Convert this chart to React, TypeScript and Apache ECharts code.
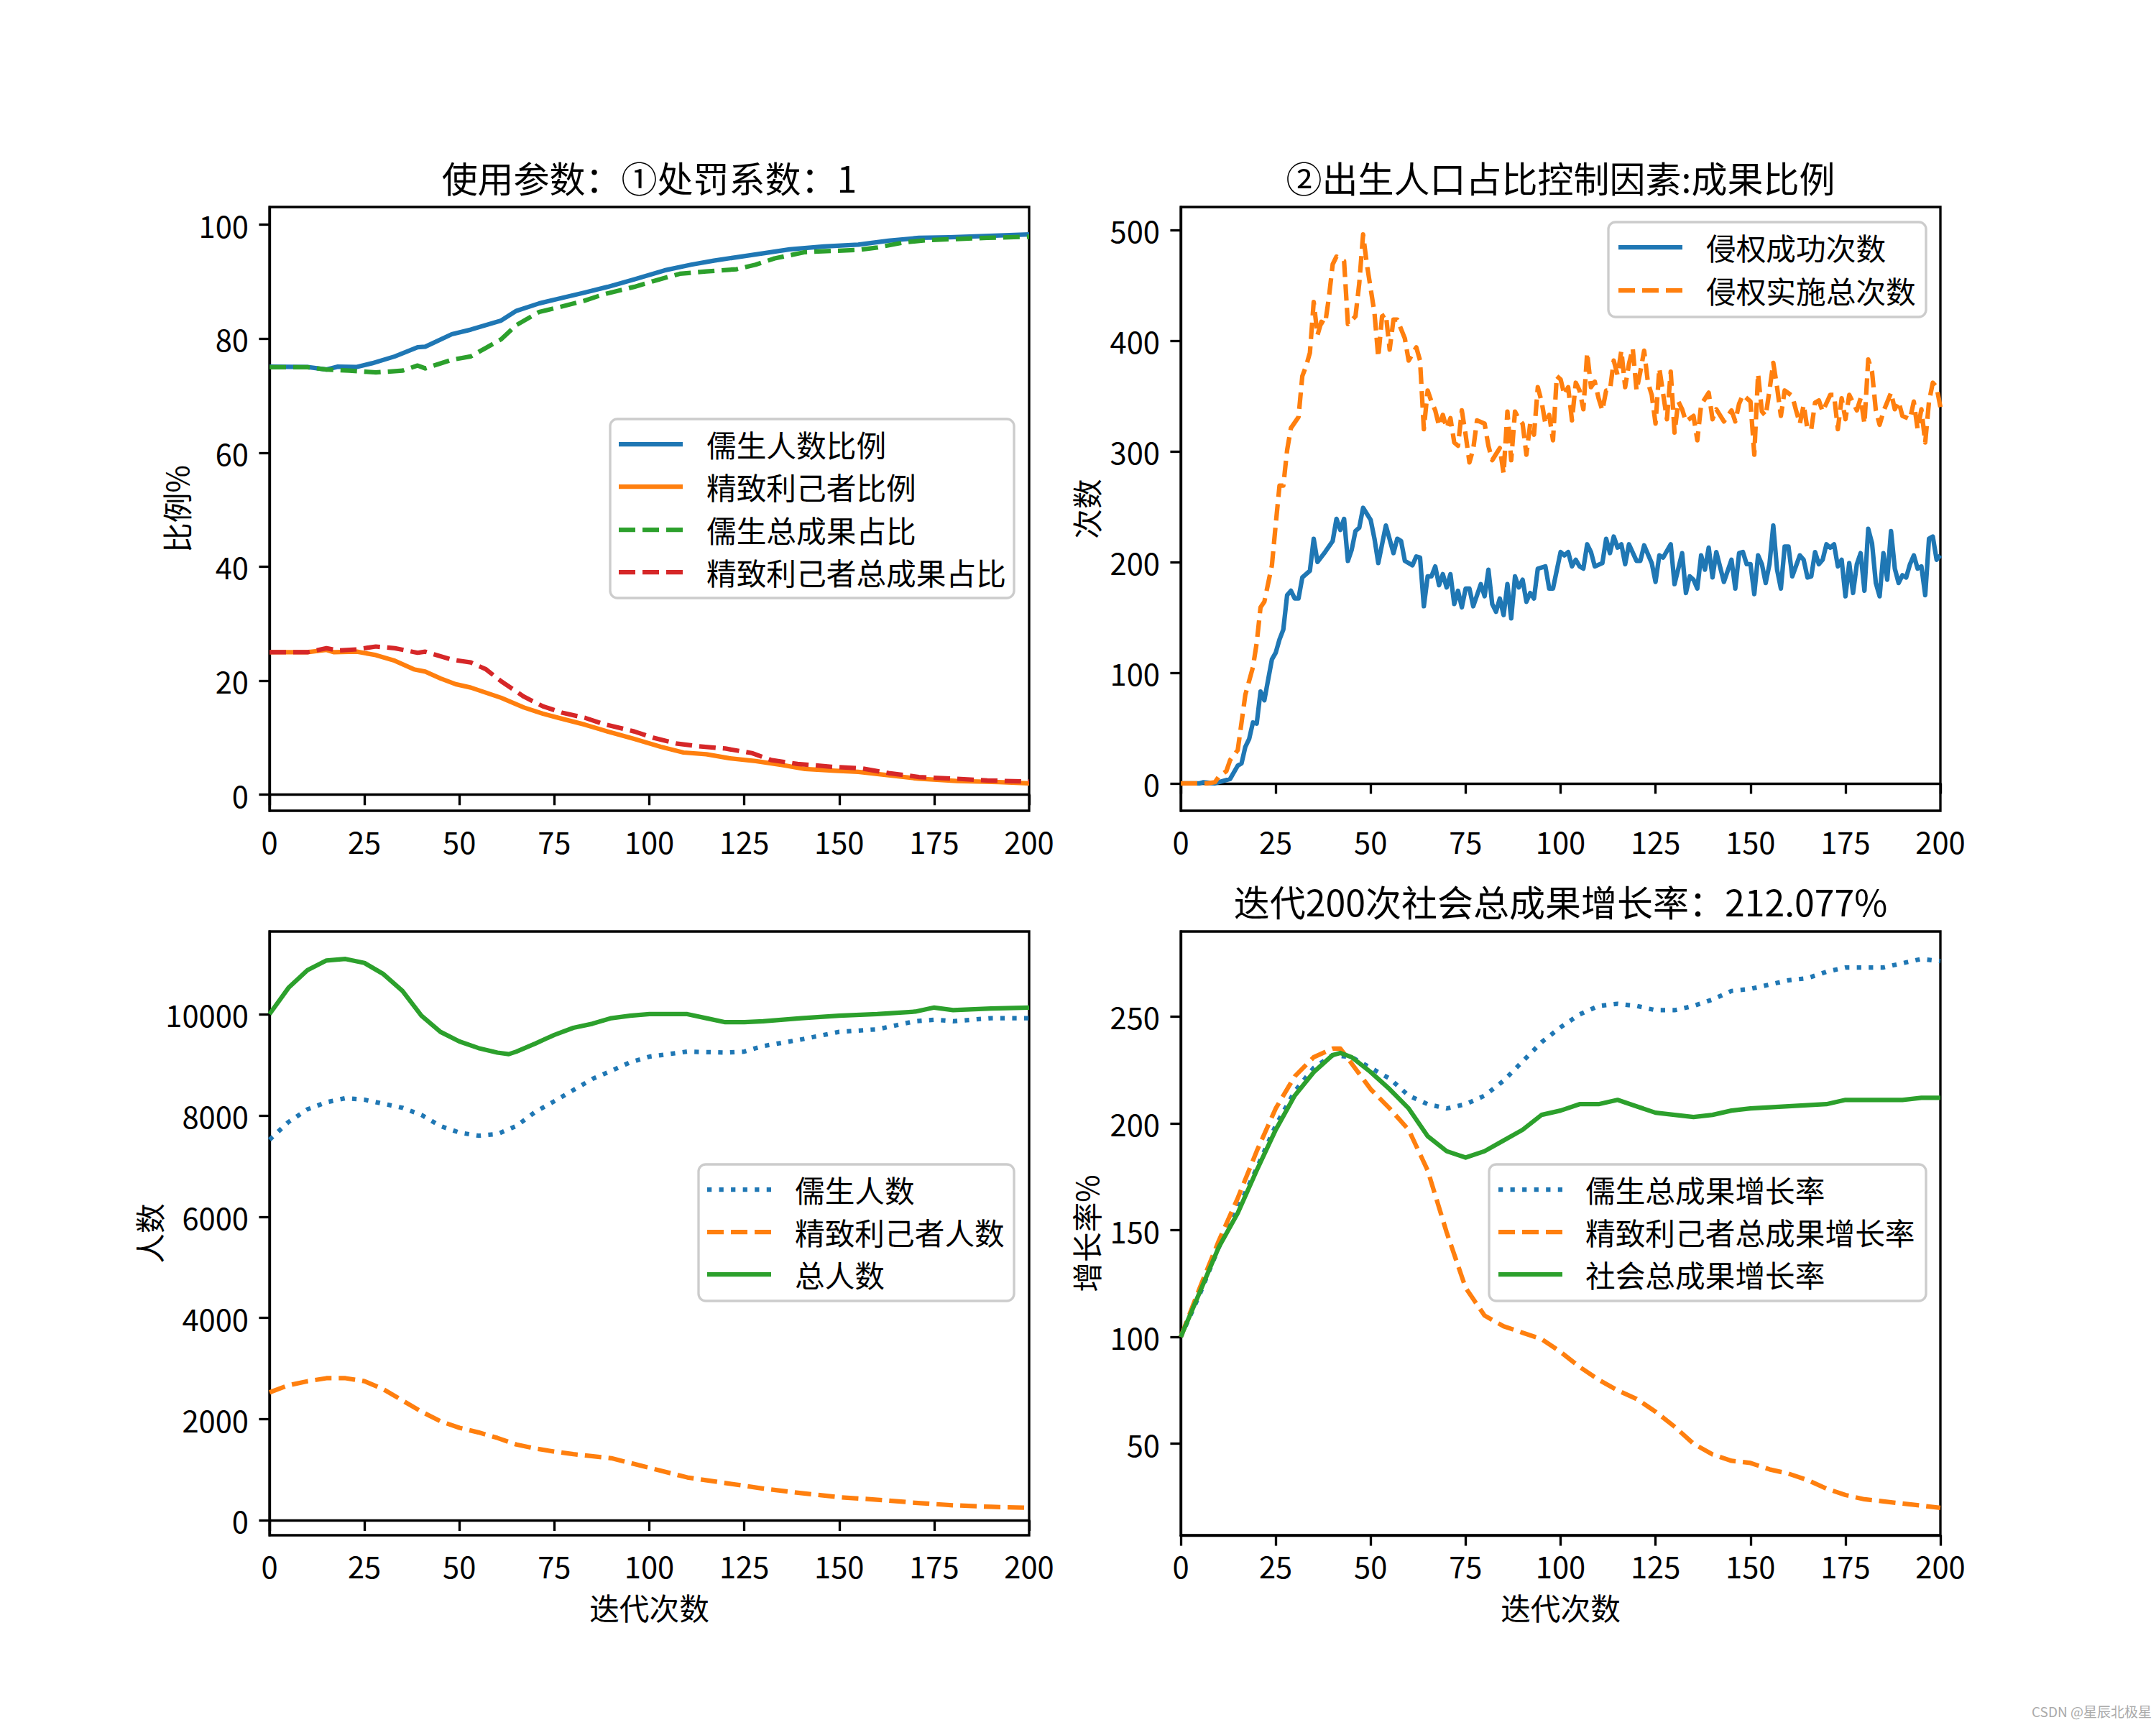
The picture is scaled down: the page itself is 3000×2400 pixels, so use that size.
import React, { useEffect, useRef } from "react";
import * as echarts from "echarts";

// ---------- tick labels ----------
const X_TICKS = [0, 25, 50, 75, 100, 125, 150, 175, 200];
const TL_Y_TICKS = [0, 20, 40, 60, 80, 100];
const TR_Y_TICKS = [0, 100, 200, 300, 400, 500];
const BL_Y_TICKS = [0, 2000, 4000, 6000, 8000, 10000];
const BR_Y_TICKS = [50, 100, 150, 200, 250];

// ---------- titles / labels ----------
const TITLE_TL = "使用参数：①处罚系数：1";
const TITLE_TR = "②出生人口占比控制因素:成果比例";
const TITLE_BR = "迭代200次社会总成果增长率：212.077%";
const YLABEL_TL = "比例%";
const YLABEL_TR = "次数";
const YLABEL_BL = "人数";
const YLABEL_BR = "增长率%";
const XLABEL = "迭代次数";
const NAMES_TL = ["儒生人数比例", "精致利己者比例", "儒生总成果占比", "精致利己者总成果占比"];
const NAMES_TR = ["侵权成功次数", "侵权实施总次数"];
const NAMES_BL = ["儒生人数", "精致利己者人数", "总人数"];
const NAMES_BR = ["儒生总成果增长率", "精致利己者总成果增长率", "社会总成果增长率"];

// ---------- data: top-left (比例%) ----------
const TL_SCHOLAR_RATIO = [[0,75.1],[10,75.05],[15,74.6],[18,75.1],[23,75.05],[27,75.7],[33,76.9],[39,78.5],[41,78.6],[48,80.8],[53,81.6],[61,83.2],[65,84.9],[71,86.2],[76,87.0],[83,88.1],[89,89.1],[96,90.4],[104,92.0],[111,93.0],[117,93.7],[124,94.4],[131,95.1],[137,95.7],[146,96.2],[155,96.5],[163,97.2],[171,97.7],[179,97.8],[187,98.0],[200,98.3]];
const TL_EGOIST_RATIO = [[0,25.0],[10,25.0],[15,25.4],[17,25.0],[23,25.1],[28,24.5],[33,23.5],[38,22.0],[41,21.6],[45,20.4],[49,19.4],[53,18.8],[61,17.0],[67,15.3],[72,14.2],[76,13.5],[83,12.3],[89,11.1],[96,9.8],[103,8.4],[109,7.4],[115,7.1],[121,6.4],[128,5.9],[135,5.2],[141,4.5],[149,4.2],[155,4.0],[163,3.4],[171,2.8],[181,2.4],[192,2.2],[200,2.0]];
const TL_SCHOLAR_OUTPUT = [[0,75.0],[10,75.0],[15,74.6],[21,74.4],[28,74.1],[35,74.4],[39,75.3],[41,74.8],[48,76.3],[53,76.9],[57,78.4],[61,79.9],[65,82.4],[71,84.7],[76,85.5],[83,86.7],[88,87.8],[96,89.1],[101,90.1],[108,91.4],[115,91.8],[123,92.2],[128,93.0],[133,94.1],[141,95.2],[155,95.6],[160,96.0],[167,96.9],[173,97.3],[181,97.5],[189,97.7],[200,97.9]];
const TL_EGOIST_OUTPUT = [[0,25.0],[10,25.0],[15,25.7],[18,25.3],[23,25.5],[28,26.0],[33,25.7],[39,24.9],[41,25.1],[48,23.7],[53,23.2],[57,22.0],[61,19.9],[67,17.2],[72,15.5],[77,14.4],[83,13.5],[88,12.4],[96,11.1],[101,10.0],[107,9.0],[113,8.5],[120,8.1],[127,7.3],[132,6.1],[139,5.4],[148,4.9],[156,4.6],[163,3.8],[171,3.1],[181,2.8],[189,2.5],[200,2.3]];

// ---------- data: top-right (次数) ----------
const TR_SUCCESS = [[0,0],[5,0],[6,1],[9,0],[11,2],[13,4],[15,16],[16,18],[17,33],[18,40],[19,55],[20,54],[21,83],[22,75],[24,112],[25,118],[26,130],[27,139],[28,170],[29,174],[30,167],[31,167],[32,186],[34,192],[35,221],[36,200],[38,209],[40,219],[41,239],[42,229],[43,239],[44,201],[45,211],[46,228],[47,231],[48,249],[50,238],[51,221],[52,199],[54,233],[56,208],[57,221],[58,219],[59,201],[61,197],[62,205],[63,204],[64,160],[65,187],[66,187],[67,196],[68,179],[69,189],[70,177],[71,189],[72,162],[73,174],[74,159],[75,176],[76,176],[77,160],[79,180],[80,169],[81,193],[82,162],[83,155],[84,167],[85,152],[86,180],[87,149],[88,187],[89,177],[90,184],[91,164],[92,172],[93,167],[94,194],[96,196],[97,176],[98,176],[100,209],[101,206],[102,209],[103,196],[104,202],[105,196],[106,194],[107,216],[108,209],[109,196],[111,199],[112,221],[113,208],[114,223],[115,213],[116,216],[117,198],[118,216],[120,201],[121,201],[122,215],[124,199],[125,182],[126,206],[127,204],[129,216],[130,180],[132,208],[133,172],[134,187],[135,184],[136,176],[137,206],[138,193],[139,213],[140,186],[141,209],[143,182],[145,202],[146,176],[147,208],[148,209],[149,198],[150,198],[151,171],[152,206],[153,198],[154,181],[155,198],[156,233],[157,193],[158,176],[159,214],[160,214],[161,187],[163,206],[164,202],[165,186],[166,187],[167,209],[168,198],[169,202],[170,216],[171,213],[172,216],[173,196],[174,202],[175,169],[176,199],[177,172],[178,198],[179,208],[180,174],[181,230],[182,217],[183,181],[184,169],[185,208],[186,184],[187,228],[188,194],[189,181],[190,188],[191,186],[192,198],[193,206],[194,194],[195,196],[196,170],[197,221],[198,223],[199,202],[200,206]];
const TR_TOTAL = [[0,0],[7,0],[9,1],[10,6],[12,11],[13,21],[15,30],[16,55],[17,80],[19,105],[20,127],[21,159],[22,164],[24,197],[25,234],[26,269],[27,269],[28,301],[29,321],[31,331],[32,368],[33,377],[34,389],[35,435],[36,405],[37,417],[38,415],[39,439],[40,469],[41,476],[43,472],[44,415],[46,422],[47,452],[48,496],[49,469],[51,425],[52,385],[53,422],[54,424],[55,392],[56,419],[57,419],[59,402],[60,382],[62,394],[63,382],[64,320],[65,355],[66,345],[67,337],[68,323],[69,333],[70,321],[71,330],[72,308],[73,305],[74,337],[75,315],[76,290],[77,302],[78,328],[80,325],[81,305],[82,292],[84,303],[85,280],[86,336],[87,292],[88,336],[89,329],[90,325],[91,297],[92,325],[93,315],[94,358],[95,345],[96,325],[97,333],[98,310],[99,368],[100,365],[101,351],[102,358],[103,328],[104,362],[105,355],[106,338],[107,389],[108,358],[109,363],[110,348],[111,337],[112,355],[113,355],[114,382],[115,369],[116,391],[117,358],[118,379],[119,393],[120,355],[121,372],[122,391],[123,362],[124,351],[125,325],[126,375],[128,329],[129,372],[130,317],[131,345],[132,338],[133,327],[135,332],[136,310],[137,342],[139,353],[140,329],[141,338],[143,327],[145,337],[146,327],[147,343],[148,351],[150,345],[151,297],[152,370],[153,336],[154,332],[155,355],[156,380],[157,358],[158,332],[159,355],[161,350],[162,337],[163,325],[164,342],[165,320],[166,320],[167,344],[168,346],[169,336],[171,351],[172,351],[173,320],[174,348],[175,329],[176,351],[178,337],[179,348],[180,325],[181,383],[182,372],[183,337],[184,324],[185,336],[187,353],[188,338],[189,345],[190,332],[192,329],[193,345],[194,320],[195,338],[196,308],[197,345],[198,362],[199,358],[200,340]];

// ---------- data: bottom-left (人数) ----------
const BL_SCHOLARS = [[0,7520],[5,7870],[10,8120],[15,8260],[20,8340],[25,8310],[30,8230],[35,8150],[40,8010],[45,7790],[50,7660],[55,7600],[60,7630],[65,7790],[70,8070],[75,8280],[80,8500],[85,8720],[90,8880],[95,9050],[100,9160],[110,9260],[120,9240],[125,9260],[130,9370],[140,9500],[150,9650],[160,9700],[165,9780],[170,9860],[175,9890],[180,9860],[190,9920],[200,9920]];
const BL_EGOISTS = [[0,2530],[5,2670],[10,2750],[15,2810],[20,2810],[25,2750],[30,2590],[35,2370],[40,2150],[45,1960],[50,1830],[55,1740],[60,1630],[65,1500],[70,1420],[75,1360],[80,1310],[90,1230],[100,1040],[110,850],[120,740],[130,630],[140,540],[150,460],[160,410],[170,350],[180,300],[190,270],[200,250]];
const BL_TOTAL = [[0,10000],[5,10520],[10,10870],[15,11060],[20,11090],[25,11010],[30,10790],[35,10460],[40,9970],[45,9650],[50,9460],[55,9330],[60,9240],[63,9210],[65,9260],[70,9420],[75,9590],[80,9730],[85,9810],[90,9920],[95,9970],[100,10000],[110,10000],[115,9920],[120,9840],[125,9840],[130,9860],[140,9920],[150,9970],[160,10000],[170,10050],[175,10130],[180,10080],[190,10110],[200,10130]];

// ---------- data: bottom-right (增长率%) ----------
const BR_SCHOLAR_GROWTH = [[0,100],[5,120],[10,142],[15,160],[20,179],[25,199],[30,215],[35,226],[40,232],[45,231],[50,226],[55,221],[60,213],[65,209],[70,207],[75,209],[80,213],[85,220],[90,229],[95,238],[100,245],[105,251],[110,255],[115,256],[120,255],[125,253],[130,253],[135,255],[140,258],[145,262],[150,263],[155,265],[160,267],[165,268],[170,271],[175,273],[180,273],[185,273],[190,275],[195,277],[200,276]];
const BR_EGOIST_GROWTH = [[0,100],[5,123],[10,145],[15,165],[20,187],[25,207],[30,222],[35,231],[40,235],[42,235],[45,228],[50,216],[55,207],[60,197],[65,178],[70,149],[75,123],[80,110],[85,105],[90,102],[95,99],[100,93],[105,86],[110,80],[115,75],[120,71],[125,65],[130,58],[135,50],[140,45],[145,42],[150,41],[155,38],[160,36],[165,33],[170,29],[175,26],[180,24],[185,23],[190,22],[195,21],[200,20]];
const BR_SOCIETY_GROWTH = [[0,100],[5,121],[10,142],[15,158],[20,178],[25,197],[30,213],[35,224],[40,232],[42,233],[45,231],[50,224],[55,216],[60,207],[65,194],[70,187],[75,184],[80,187],[85,192],[90,197],[95,204],[100,206],[105,209],[110,209],[115,211],[120,208],[125,205],[130,204],[135,203],[140,204],[145,206],[150,207],[160,208],[170,209],[175,211],[180,211],[190,211],[195,212],[200,212]];

// ---------- styling constants ----------
const FONT = '"Noto Sans CJK SC", "Noto Sans", sans-serif';
const C_BLUE = "#1f77b4";
const C_ORANGE = "#ff7f0e";
const C_GREEN = "#2ca02c";
const C_RED = "#d62728";
const LW = 6.25;
const DASH = [23, 10];
const DOT = [6.25, 10.3];
const SPINE = 3.33;
const TICK_FS = 41.7;

const GRIDS = [
  { left: 375, top: 288, width: 1057, height: 840 },
  { left: 1643, top: 288, width: 1057, height: 840 },
  { left: 375, top: 1296, width: 1057, height: 840 },
  { left: 1643, top: 1296, width: 1057, height: 840 },
];

function padRange(list: number[][][]) {
  let lo = Infinity, hi = -Infinity;
  list.forEach((s) => s.forEach((p) => { lo = Math.min(lo, p[1]); hi = Math.max(hi, p[1]); }));
  const m = (hi - lo) * 0.05;
  return [lo - m, hi + m];
}

const plain = (v: number) => String(v);

function xAxis(i: number) {
  return {
    type: "value", gridIndex: i, min: 0, max: 200,
    axisLine: { show: true, lineStyle: { color: "#000", width: SPINE } },
    axisTick: { show: true, inside: false, length: 14.6, lineStyle: { color: "#000", width: SPINE }, customValues: X_TICKS },
    axisLabel: { show: true, color: "#000", fontSize: TICK_FS, fontFamily: FONT, lineHeight: 40, margin: 22, formatter: plain, customValues: X_TICKS },
    splitLine: { show: false },
  };
}
function yAxis(i: number, range: number[], ticks: number[]) {
  return {
    type: "value", gridIndex: i, min: range[0], max: range[1],
    axisLine: { show: true, lineStyle: { color: "#000", width: SPINE } },
    axisTick: { show: true, inside: false, length: 14.6, lineStyle: { color: "#000", width: SPINE }, customValues: ticks },
    axisLabel: { show: true, color: "#000", fontSize: TICK_FS, fontFamily: FONT, lineHeight: 40, margin: 29, formatter: plain, customValues: ticks },
    splitLine: { show: false },
  };
}
function line(name: string, i: number, data: number[][], color: string, dash: any, z: number) {
  return {
    type: "line", name, xAxisIndex: i, yAxisIndex: i, data,
    showSymbol: false, symbol: "none", smooth: false, z,
    lineStyle: { color, width: LW, type: dash, cap: "butt", join: "round" },
    itemStyle: { color },
    emphasis: { disabled: true },
    silent: true,
  };
}

function txt(text: string, x: number, y: number, size: number, align = "left", rot = 0, color = "#000") {
  return {
    type: "text", x, y, rotation: rot, z: 200,
    style: {
      text, x: 0, y: 0, fill: color, fontSize: size, fontFamily: FONT,
      align, textAlign: align, verticalAlign: "middle", textVerticalAlign: "middle",
    },
  };
}

function legend(box: number[], lineX: number[], textX: number, rows: number[], names: string[], colors: string[], dashes: any[]) {
  const els: any[] = [{
    type: "rect", z: 150,
    shape: { x: box[0], y: box[1], width: box[2] - box[0], height: box[3] - box[1], r: 10 },
    style: { fill: "rgba(255,255,255,0.8)", stroke: "#cccccc", lineWidth: SPINE },
  }];
  names.forEach((n, k) => {
    els.push({
      type: "line", z: 160,
      shape: { x1: lineX[0], y1: rows[k], x2: lineX[1], y2: rows[k] },
      style: { stroke: colors[k], lineWidth: LW, lineDash: dashes[k] || null, lineCap: "butt" },
    });
    els.push(txt(n, textX, rows[k], TICK_FS));
  });
  return els;
}

export default function App() {
  const ref = useRef<HTMLDivElement>(null);
  useEffect(() => {
    if (!ref.current) return;
    const chart = echarts.init(ref.current, null, { renderer: "svg" });
    const rTL = padRange([TL_SCHOLAR_RATIO, TL_EGOIST_RATIO, TL_SCHOLAR_OUTPUT, TL_EGOIST_OUTPUT]);
    const rTR = padRange([TR_SUCCESS, TR_TOTAL]);
    const rBL = padRange([BL_SCHOLARS, BL_EGOISTS, BL_TOTAL]);
    const rBR = padRange([BR_SCHOLAR_GROWTH, BR_EGOIST_GROWTH, BR_SOCIETY_GROWTH]);

    const cx = (g: any) => g.left + g.width / 2;
    const cy = (g: any) => g.top + g.height / 2;

    const graphics: any[] = [
      txt(TITLE_TL, cx(GRIDS[0]), 246, 50, "center"),
      txt(TITLE_TR, cx(GRIDS[1]), 246, 50, "center"),
      txt(TITLE_BR, cx(GRIDS[3]), 1253, 50, "center"),
      txt(YLABEL_TL, 245, cy(GRIDS[0]), TICK_FS, "center", Math.PI / 2),
      txt(YLABEL_TR, 1511, cy(GRIDS[1]), TICK_FS, "center", Math.PI / 2),
      txt(YLABEL_BL, 207, cy(GRIDS[2]), TICK_FS, "center", Math.PI / 2),
      txt(YLABEL_BR, 1511, cy(GRIDS[3]), TICK_FS, "center", Math.PI / 2),
      txt(XLABEL, cx(GRIDS[2]), 2236, TICK_FS, "center"),
      txt(XLABEL, cx(GRIDS[3]), 2236, TICK_FS, "center"),
      ...legend([849, 583, 1411, 832], [861, 950], 983, [618, 677, 737, 796], NAMES_TL,
        [C_BLUE, C_ORANGE, C_GREEN, C_RED], [null, null, DASH, DASH]),
      ...legend([2238, 309, 2680, 441], [2252, 2341], 2374, [344, 404], NAMES_TR,
        [C_BLUE, C_ORANGE], [null, DASH]),
      ...legend([972, 1620, 1411, 1810], [984, 1073], 1106, [1655, 1714, 1773], NAMES_BL,
        [C_BLUE, C_ORANGE, C_GREEN], [DOT, DASH, null]),
      ...legend([2072, 1620, 2680, 1810], [2085, 2174], 2206, [1655, 1714, 1773], NAMES_BR,
        [C_BLUE, C_ORANGE, C_GREEN], [DOT, DASH, null]),
      txt("CSDN @星辰北极星", 2994, 2380, 19, "right", 0, "#aaaaaa"),
    ];

    chart.setOption({
      animation: false,
      backgroundColor: "#ffffff",
      grid: GRIDS.map((g) => ({
        ...g, show: true, borderColor: "#000", borderWidth: SPINE, backgroundColor: "transparent",
        containLabel: false, outerBoundsMode: "none",
      })),
      xAxis: [0, 1, 2, 3].map((i) => xAxis(i)),
      yAxis: [
        yAxis(0, rTL, TL_Y_TICKS),
        yAxis(1, rTR, TR_Y_TICKS),
        yAxis(2, rBL, BL_Y_TICKS),
        yAxis(3, rBR, BR_Y_TICKS),
      ],
      series: [
        line(NAMES_TL[0], 0, TL_SCHOLAR_RATIO, C_BLUE, "solid", 2),
        line(NAMES_TL[1], 0, TL_EGOIST_RATIO, C_ORANGE, "solid", 3),
        line(NAMES_TL[2], 0, TL_SCHOLAR_OUTPUT, C_GREEN, DASH, 4),
        line(NAMES_TL[3], 0, TL_EGOIST_OUTPUT, C_RED, DASH, 5),
        line(NAMES_TR[0], 1, TR_SUCCESS, C_BLUE, "solid", 2),
        line(NAMES_TR[1], 1, TR_TOTAL, C_ORANGE, DASH, 3),
        line(NAMES_BL[0], 2, BL_SCHOLARS, C_BLUE, DOT, 2),
        line(NAMES_BL[1], 2, BL_EGOISTS, C_ORANGE, DASH, 3),
        line(NAMES_BL[2], 2, BL_TOTAL, C_GREEN, "solid", 4),
        line(NAMES_BR[0], 3, BR_SCHOLAR_GROWTH, C_BLUE, DOT, 2),
        line(NAMES_BR[1], 3, BR_EGOIST_GROWTH, C_ORANGE, DASH, 3),
        line(NAMES_BR[2], 3, BR_SOCIETY_GROWTH, C_GREEN, "solid", 4),
      ],
      graphic: { elements: graphics },
    });
    return () => chart.dispose();
  }, []);
  return (
    <div
      ref={ref}
      style={{ position: "fixed", left: 0, top: 0, width: 3000, height: 2400, background: "#fff" }}
    />
  );
}
